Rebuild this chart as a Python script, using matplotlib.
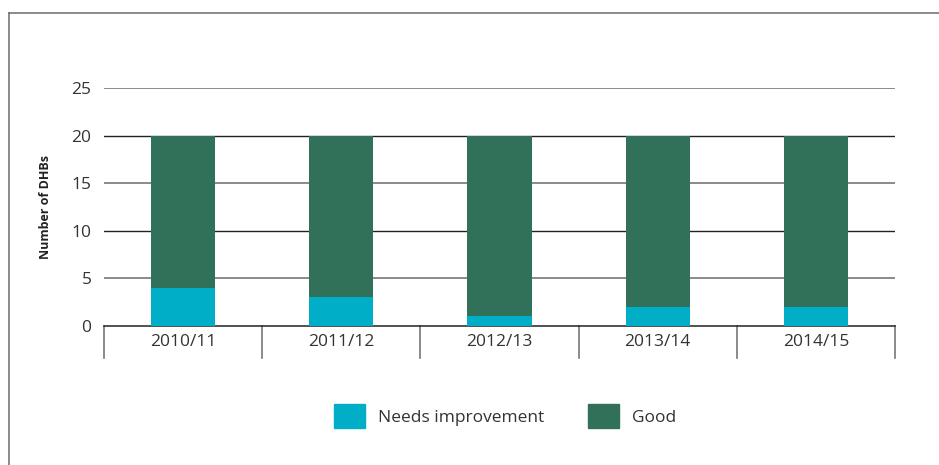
import matplotlib
matplotlib.use('Agg')
import matplotlib.pyplot as plt
from matplotlib.lines import Line2D
from matplotlib.patches import Patch
import numpy as np

plt.rcParams['font.family'] = ['Open Sans', 'DejaVu Sans']

years = ['2010/11', '2011/12', '2012/13', '2013/14', '2014/15']
needs_improvement = [4, 3, 1, 2, 2]
good = [16, 17, 19, 18, 18]

col_needs = '#00afc7'
col_good = '#31715a'
text_col = '#333333'
fs = 12.5

fig = plt.figure(figsize=(9.39, 4.65), dpi=100)
ax = fig.add_axes([104 / 939, 1 - 326 / 465, (895 - 104) / 939, (326 - 88) / 465])

x = np.arange(len(years))
ax.bar(x, needs_improvement, width=0.405, color=col_needs, zorder=3)
ax.bar(x, good, width=0.405, bottom=needs_improvement, color=col_good, zorder=3)

ax.set_xlim(-0.5, len(years) - 0.5)
ax.set_ylim(0, 25)

# horizontal gridlines, the 10 and 20 lines are drawn darker
for v in [5, 10, 15, 20, 25]:
    if v in (10, 20):
        ax.axhline(v, color='#222222', lw=1.0, zorder=1)
    else:
        ax.axhline(v, color='#8a8a8a', lw=1.4, zorder=1)

for s in ['top', 'right', 'left']:
    ax.spines[s].set_visible(False)
ax.spines['bottom'].set_color('#222222')
ax.spines['bottom'].set_linewidth(1.1)

ax.set_yticks([0, 5, 10, 15, 20, 25])
ax.tick_params(axis='y', length=0, pad=9, labelsize=fs, labelcolor=text_col)
ax.set_xticks([])

# category separators and labels under the axis
trans = ax.get_xaxis_transform()
for b in np.arange(len(years) + 1) - 0.5:
    ax.add_line(Line2D([b, b], [0, -32 / 238], transform=trans, color='#777777',
                       lw=1.2, clip_on=False))
for i, yr in enumerate(years):
    ax.text(i, -16 / 238, yr, transform=trans, ha='center', va='center',
            fontsize=fs, color=text_col)

ax.set_ylabel('Number of DHBs', fontsize=9, fontweight='bold', color='#222222', labelpad=14)

# open frame around the chart (top and left edge)
fig.add_artist(Line2D([9 / 939, 9 / 939], [0, 1 - 13 / 465], transform=fig.transFigure,
                      color='#777777', lw=1.2))
fig.add_artist(Line2D([9 / 939, 1], [1 - 13 / 465, 1 - 13 / 465], transform=fig.transFigure,
                      color='#777777', lw=1.2))

handles = [Patch(color=col_needs, label='Needs improvement'), Patch(color=col_good, label='Good')]
fig.legend(handles=handles, loc='center', bbox_to_anchor=(505 / 939, 1 - 416 / 465), ncol=2,
           frameon=False, fontsize=fs, handlelength=1.8, handleheight=1.8,
           handletextpad=0.75, columnspacing=2.5, labelcolor=text_col)

fig.savefig('out.png', dpi=100)
